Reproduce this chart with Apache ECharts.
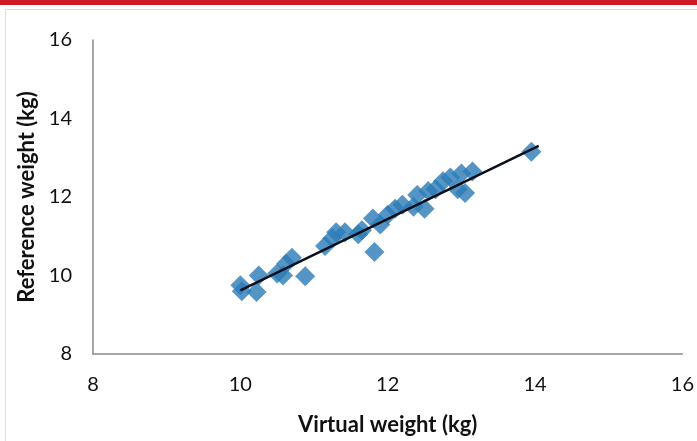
<!DOCTYPE html>
<html>
<head>
<meta charset="utf-8">
<script src="https://cdn.jsdelivr.net/npm/echarts@6/dist/echarts.min.js"></script>
<style>html,body{margin:0;padding:0;background:#fff}#c{width:697px;height:441px}</style>
</head>
<body>
<div id="c"></div>
<script>
const xTicks = [8, 10, 12, 14, 16];
const yTicks = [8, 10, 12, 14, 16];
const virtualWeight = [10.0, 10.02, 10.22, 10.25, 10.5, 10.58, 10.62, 10.7, 10.88, 11.15, 11.25, 11.3, 11.42, 11.6, 11.65, 11.8, 11.82, 11.9, 12.0, 12.1, 12.2, 12.35, 12.4, 12.5, 12.55, 12.65, 12.75, 12.85, 12.95, 13.0, 13.05, 13.15, 13.95];
const referenceWeight = [9.75, 9.6, 9.58, 10.0, 10.05, 10.0, 10.3, 10.45, 9.98, 10.75, 10.95, 11.1, 11.1, 11.05, 11.15, 11.45, 10.6, 11.3, 11.55, 11.7, 11.8, 11.75, 12.05, 11.7, 12.15, 12.2, 12.4, 12.5, 12.2, 12.6, 12.1, 12.65, 13.15];
const trendX = [10.0, 14.05];
const trendY = [9.62, 13.3];

const points = virtualWeight.map((v, i) => [v, referenceWeight[i]]);
const trend = trendX.map((v, i) => [v, trendY[i]]);
const font = 'Lato, "Open Sans", sans-serif';

const chart = echarts.init(document.getElementById('c'), null, {renderer: 'canvas'});
chart.setOption({
  animation: false,
  backgroundColor: '#fff',
  graphic: [
    {type: 'rect', shape: {x: 0, y: 0, width: 697, height: 5}, style: {fill: '#CC1A24'}},
    {type: 'rect', shape: {x: 5.5, y: 9.5, width: 700, height: 440}, style: {fill: 'none', stroke: '#dcdcdc', lineWidth: 1}}
  ],
  grid: {left: 93, right: 14, top: 40, bottom: 85},
  xAxis: {
    type: 'value', min: xTicks[0], max: xTicks[xTicks.length - 1], interval: 2,
    name: 'Virtual weight (kg)', nameLocation: 'middle', nameGap: 60,
    nameTextStyle: {fontFamily: font, fontSize: 22, fontWeight: 'bold', color: '#111'},
    axisLine: {lineStyle: {color: '#8a8a8a', width: 1.5}},
    axisTick: {show: false}, splitLine: {show: false},
    axisLabel: {margin: 21, fontFamily: font, fontSize: 20, color: '#111'}
  },
  yAxis: {
    type: 'value', min: yTicks[0], max: yTicks[yTicks.length - 1], interval: 2,
    name: 'Reference weight (kg)', nameLocation: 'middle', nameGap: 54, nameRotate: 90,
    nameTextStyle: {fontFamily: font, fontSize: 22, fontWeight: 'bold', color: '#111'},
    axisLine: {show: true, lineStyle: {color: '#8a8a8a', width: 1.5}},
    axisTick: {show: false}, splitLine: {show: false},
    axisLabel: {margin: 21, fontFamily: font, fontSize: 20, color: '#111'}
  },
  series: [
    {type: 'scatter', data: points, symbol: 'diamond', symbolSize: 20,
     itemStyle: {color: '#2B7BB6'}},
    {type: 'line', data: trend, showSymbol: false, symbol: 'none',
     lineStyle: {color: '#0a0f1a', width: 2.5}, z: 5}
  ]
});
</script>
</body>
</html>
